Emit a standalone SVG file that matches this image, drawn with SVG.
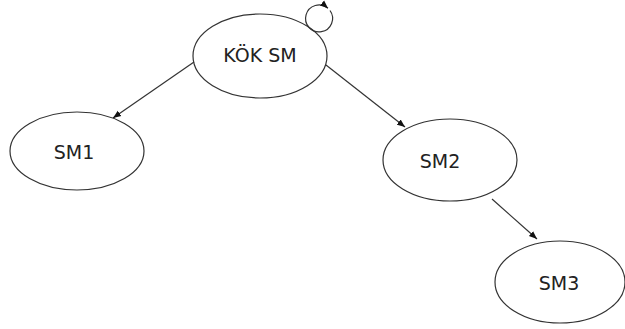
<svg xmlns="http://www.w3.org/2000/svg" width="625" height="329" viewBox="0 0 625 329">
<style>
.node ellipse{fill:#fff;stroke:#333;stroke-width:1.2}
.node text{font-family:"DejaVu Sans",Verdana,sans-serif;font-size:19px;fill:#222;text-anchor:middle}
.edge{stroke:#333;stroke-width:1.2;fill:none;marker-end:url(#ah)}
</style>
<defs>
<marker id="ah" viewBox="0 0 10 10" refX="10" refY="5" markerWidth="8" markerHeight="8" markerUnits="userSpaceOnUse" orient="auto">
<path d="M0,1 L10,5 L0,9 Z" fill="#111"/>
</marker>
</defs>
<rect width="625" height="329" fill="#fff"/>
<g id="kok" class="node">
<ellipse cx="260" cy="56" rx="67" ry="42"/>
<text x="260" y="62">KÖK SM</text>
</g>
<g id="sm1" class="node">
<ellipse cx="77" cy="151" rx="67" ry="39"/>
<text x="74" y="159">SM1</text>
</g>
<g id="sm2" class="node">
<ellipse cx="450" cy="160" rx="67" ry="41"/>
<text x="440" y="168">SM2</text>
</g>
<g id="sm3" class="node">
<ellipse cx="560" cy="282" rx="65" ry="41"/>
<text x="559" y="290">SM3</text>
</g>
<g id="connectors">
<line class="edge" x1="194" y1="62" x2="113" y2="118"/>
<line class="edge" x1="326" y1="65" x2="405" y2="127"/>
<line class="edge" x1="492" y1="199" x2="537" y2="239"/>
<path class="edge" d="M330,10.5 A13.5,13.5 0 1 1 328,8.3"/>
</g>
</svg>
